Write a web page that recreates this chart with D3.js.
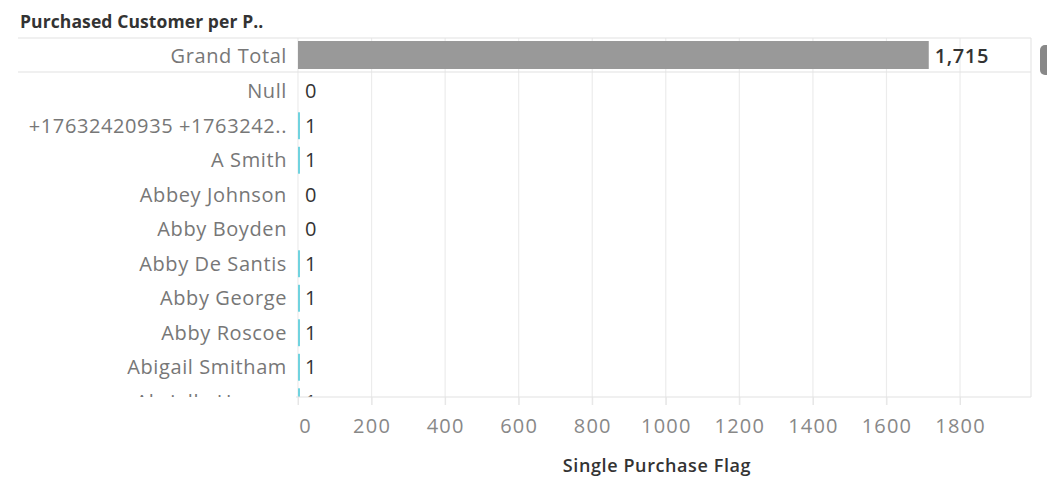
<!DOCTYPE html>
<html>
<head>
<meta charset="utf-8">
<script src="https://cdn.jsdelivr.net/npm/d3@7"></script>
<style>
  html, body { margin: 0; padding: 0; background: #fff; }
  svg { display: block; font-family: "Open Sans", "Noto Sans", sans-serif; }
</style>
</head>
<body>
<svg id="chart" width="1047" height="479"></svg>
<script>
// Customers and their single-purchase flag counts
const customers = ["Null", "+17632420935 +1763242..", "A Smith", "Abbey Johnson", "Abby Boyden",
  "Abby De Santis", "Abby George", "Abby Roscoe", "Abigail Smitham", "Abrielle Horner"];
const flagValues = [0, 1, 1, 0, 0, 1, 1, 1, 1, 1];
const grandTotalLabel = "Grand Total";
const grandTotalValue = 1715;
const xTicks = [0, 200, 400, 600, 800, 1000, 1200, 1400, 1600, 1800];

const svg = d3.select("#chart");
const left = 298, right = 1031;
const totalTop = 38, totalBottom = 72;
const plotBottom = 397;
const labelSize = 20;
const labelSpacing = 0.6;

const x = d3.scaleLinear().domain([0, 1993]).range([left, right]);
const y = d3.scaleBand().domain(customers).range([74, 74 + 34.5 * customers.length]).paddingInner(0.22).paddingOuter(0.11);

const fmt = d3.format(",");

// Title
svg.append("text").attr("x", 20).attr("y", 28)
  .attr("font-size", 17.5).attr("font-weight", 700).attr("letter-spacing", 0.1).attr("fill", "#333")
  .text("Purchased Customer per P..");

// Gridlines (total row and body)
const grid = svg.append("g");
xTicks.forEach(t => {
  grid.append("line").attr("x1", x(t)).attr("x2", x(t))
    .attr("y1", totalTop).attr("y2", plotBottom + 8)
    .attr("stroke", "#ececec").attr("stroke-width", 1.2);
});
// Right border of the pane
svg.append("line").attr("x1", right).attr("x2", right).attr("y1", totalTop).attr("y2", plotBottom)
  .attr("stroke", "#e6e6e6").attr("stroke-width", 1.2);

// Total row separators
svg.append("line").attr("x1", 18).attr("x2", right).attr("y1", totalTop).attr("y2", totalTop)
  .attr("stroke", "#e2e2e2").attr("stroke-width", 1.2);
svg.append("line").attr("x1", 18).attr("x2", right).attr("y1", totalBottom).attr("y2", totalBottom)
  .attr("stroke", "#e2e2e2").attr("stroke-width", 1.2);

// Grand total bar
svg.append("rect").attr("x", x(0)).attr("y", 41)
  .attr("width", x(grandTotalValue) - x(0)).attr("height", 28)
  .attr("fill", "#999");
svg.append("text").attr("x", x(grandTotalValue) + 6).attr("y", 63)
  .attr("font-size", labelSize).attr("font-weight", 600).attr("letter-spacing", labelSpacing).attr("fill", "#333")
  .text(fmt(grandTotalValue));
svg.append("text").attr("x", 287).attr("y", 63).attr("text-anchor", "end")
  .attr("font-size", labelSize).attr("letter-spacing", labelSpacing).attr("fill", "#777").text(grandTotalLabel);

// Body rows, clipped at the bottom of the pane
svg.append("clipPath").attr("id", "bodyClip")
  .append("rect").attr("x", 0).attr("y", totalBottom + 1).attr("width", 1047).attr("height", plotBottom - totalBottom - 1);
const body = svg.append("g").attr("clip-path", "url(#bodyClip)");

const rows = body.selectAll("g.row").data(customers.map((c, i) => ({ name: c, value: flagValues[i] })))
  .join("g").attr("class", "row");

rows.append("text")
  .attr("x", 287).attr("y", d => y(d.name) + y.bandwidth() / 2 + 7)
  .attr("text-anchor", "end").attr("font-size", labelSize).attr("letter-spacing", labelSpacing).attr("fill", "#777")
  .text(d => d.name);

rows.append("rect")
  .attr("x", x(0))
  .attr("y", d => y(d.name))
  .attr("width", d => d.value > 0 ? Math.max(2, x(d.value) - x(0)) : 0)
  .attr("height", y.bandwidth())
  .attr("fill", "#71d3df");

rows.append("text")
  .attr("x", x(0) + 7).attr("y", d => y(d.name) + y.bandwidth() / 2 + 7)
  .attr("font-size", labelSize).attr("fill", "#333")
  .text(d => fmt(d.value));

// Bottom border of the pane
svg.append("line").attr("x1", x(0) - 2).attr("x2", right).attr("y1", plotBottom).attr("y2", plotBottom)
  .attr("stroke", "#e2e2e2").attr("stroke-width", 1.2);

// X axis
const axis = svg.append("g").attr("transform", `translate(0,${plotBottom})`)
  .call(d3.axisBottom(x).tickValues(xTicks).tickSize(8).tickPadding(14).tickFormat(d3.format("d")));
axis.select(".domain").remove();
axis.selectAll(".tick line").attr("stroke", "#e6e6e6");
axis.selectAll(".tick text").attr("font-size", labelSize).attr("letter-spacing", 1.2).attr("fill", "#888")
  .attr("font-family", "'Open Sans', 'Noto Sans', sans-serif");
// keep the zero label inside the pane
axis.selectAll(".tick text").filter(d => d === 0).attr("dx", 7);

svg.append("text").attr("x", 657).attr("y", 472).attr("text-anchor", "middle")
  .attr("font-size", 18).attr("font-weight", 600).attr("letter-spacing", 0.6).attr("fill", "#333")
  .text("Single Purchase Flag");

// Scroll thumb
svg.append("rect").attr("x", 1040).attr("y", 45).attr("width", 12).attr("height", 30)
  .attr("rx", 5).attr("fill", "#888");
</script>
</body>
</html>
